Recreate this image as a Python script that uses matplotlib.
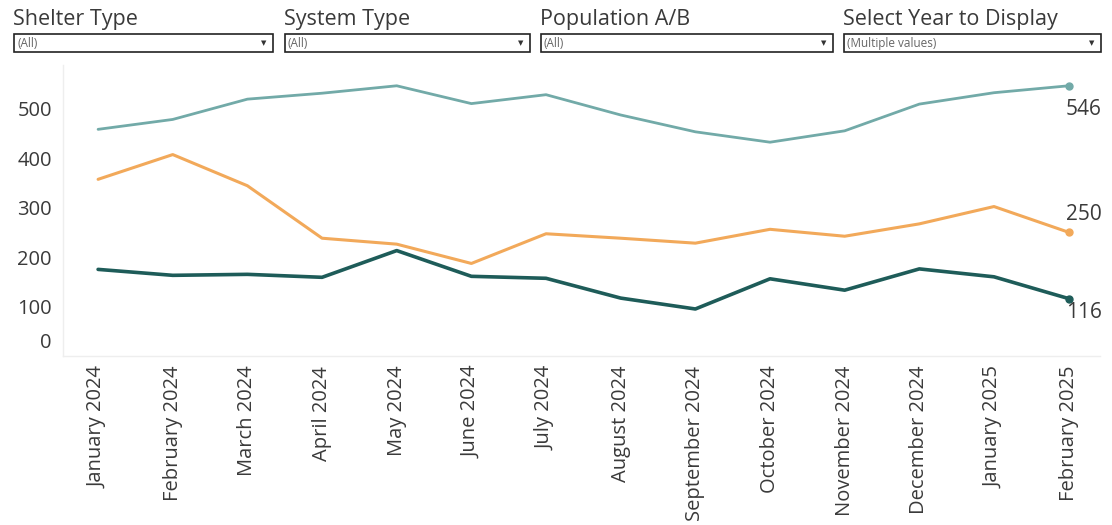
import matplotlib
matplotlib.use("Agg")
import matplotlib.pyplot as plt
from matplotlib.patches import Rectangle
from matplotlib.transforms import ScaledTranslation

plt.rcParams['font.family'] = ['Open Sans', 'DejaVu Sans']

months = ["January 2024", "February 2024", "March 2024", "April 2024", "May 2024",
          "June 2024", "July 2024", "August 2024", "September 2024", "October 2024",
          "November 2024", "December 2024", "January 2025", "February 2025"]
series_top = [458, 478, 519, 531, 546, 510, 528, 487, 453, 432, 455, 509, 532, 546]
series_mid = [357, 407, 344, 238, 226, 187, 247, 238, 228, 256, 242, 267, 302, 250]
series_low = [175, 163, 165, 159, 213, 161, 157, 117, 95, 156, 133, 176, 160, 116]
y_ticks = [0, 100, 200, 300, 400, 500]

filter_titles = ["Shelter Type", "System Type", "Population A/B", "Select Year to Display"]
filter_values = ["(All)", "(All)", "(All)", "(Multiple values)"]

colors = ["#72aaa8", "#f2a95a", "#1e5c59"]
W, H = 1112, 525
fig = plt.figure(figsize=(W / 100, H / 100), dpi=100)

def px(x0, y0, w, h):
    return [x0 / W, 1 - (y0 + h) / H, w / W, h / H]

# Filter widgets
boxes = [(14, 259), (285, 245), (541, 292), (844, 257)]
for (bx, bw), title, val in zip(boxes, filter_titles, filter_values):
    fig.text((bx - 1) / W, 1 - 19.5 / H, title, fontsize=15.5, color="#3a3a3a",
             ha="left", va="center")
    fig.patches.append(Rectangle((bx / W, 1 - 52 / H), bw / W, 18 / H,
                                 transform=fig.transFigure, facecolor="white",
                                 edgecolor="#222222", linewidth=1.2))
    fig.text((bx + 3) / W, 1 - 43.5 / H, val, fontsize=8.5, color="#666666",
             ha="left", va="center")
    fig.text((bx + bw - 9) / W, 1 - 43 / H, "▼", fontsize=5, color="#333333",
             ha="center", va="center", family="DejaVu Sans")

ax = fig.add_axes(px(63, 65, 1037, 291))
x = list(range(len(months)))
lws = [2.0, 2.2, 2.6]
label_offsets = [-17, 13, -10]
for s, c, lw, off in zip([series_top, series_mid, series_low], colors, lws, label_offsets):
    ax.plot(x, s, color=c, linewidth=lw, solid_capstyle="round")
    ax.plot(x[-1], s[-1], "o", color=c, markersize=5)
    ax.annotate(str(s[-1]), (x[-1], s[-1]), xytext=(-2, off), textcoords="offset points",
                ha="left", va="center", fontsize=15, color="#3a3a3a")

ax.set_xlim(-0.47, len(months) - 1 + 0.42)
ax.set_ylim(0, 588)
ax.set_yticks(y_ticks)
ax.set_yticklabels([str(v) for v in y_ticks], fontsize=14.5, color="#3a3a3a")
ax.set_xticks(x)
ax.set_xticklabels(months, rotation=90, fontsize=14.5, color="#3a3a3a")
ax.tick_params(axis="both", length=0)
ax.tick_params(axis="y", pad=8)
ax.tick_params(axis="x", pad=7)
for sp in ["top", "right"]:
    ax.spines[sp].set_visible(False)
for sp in ["left", "bottom"]:
    ax.spines[sp].set_color("#eeeeee")
    ax.spines[sp].set_linewidth(1)

# Tableau nudges the zero label up inside the axis area
lbl0 = ax.get_yticklabels()[0]
lbl0.set_transform(lbl0.get_transform() + ScaledTranslation(0, 16 / 100, fig.dpi_scale_trans))

fig.savefig("out.png", dpi=100, facecolor="white")
